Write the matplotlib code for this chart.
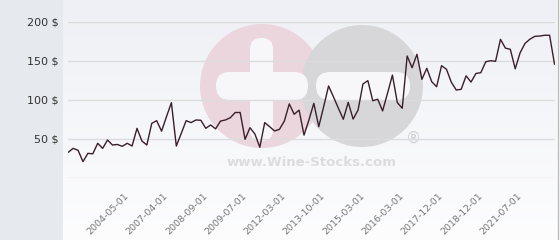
"""
Price history line chart for one wine (wine-stocks style), saved to out.png.
"""

import matplotlib
matplotlib.use("Agg")
import matplotlib.pyplot as plt
import numpy as np
from matplotlib.patches import Circle, FancyBboxPatch, Rectangle

# price per sample
prices = [
    33, 38, 35.5, 21, 31.6, 31, 44.5, 38, 48.7, 42.3,
    43, 40.6, 44.5, 41, 63.7, 47.4, 42.3, 70, 73.5, 60,
    78.6, 96.6, 41, 57, 73.5, 71, 74.4, 74, 63.7, 68,
    63, 73, 74.4, 77.3, 84, 84, 49.6, 64.5, 56.4, 39.4,
    71, 65.8, 60.3, 62.4, 73, 95, 81.7, 87, 55, 74.4,
    95.8, 65.8, 91.4, 118, 104, 89.4, 75.3, 97, 75.6, 87,
    120.5, 124.8, 99, 101, 86, 108.6, 132, 96.6, 89.4, 156.4,
    141.4, 158.6, 126.5, 140.6, 123.5, 117, 144, 139.4, 122.7, 112.8,
    113.7, 131, 123, 134, 135, 149, 150.4, 149.6, 177.8, 166.5,
    165, 140, 160.6, 172.6, 178, 181.6, 182, 183, 183, 146,
]

date_labels = [
    "2004-05-01", "2007-04-01", "2008-09-01", "2009-07-01", "2012-03-01",
    "2013-10-01", "2015-03-01", "2016-03-01", "2017-12-01", "2018-12-01",
    "2021-07-01",
]
label_start, label_step = 12, 8   # every 8th sample gets a date label

y_ticks = [0, 50, 100, 150, 200]

W, H = 560, 240
fig = plt.figure(figsize=(W / 100, H / 100), dpi=100)

# background layer in pixel coords: grey side panel, gradient, watermark
bg = fig.add_axes([0, 0, 1, 1], zorder=0)
bg.set_xlim(0, W)
bg.set_ylim(H, 0)
bg.axis("off")
grad = np.linspace(0, 1, 100).reshape(-1, 1)
bg.imshow(grad, cmap=matplotlib.colors.LinearSegmentedColormap.from_list(
    "bgg", ["#eef0f5", "#fdfdfe"]), extent=[63, 557, H, 0], aspect="auto")
bg.add_patch(Rectangle((0, 0), 63, H, color="#e6eaee", lw=0))
bg.plot([558, 558], [0, H], color="#b8b8b8", lw=1)

# watermark logo
bg.add_patch(Circle((262, 86), 62, color="#ebd6dd", lw=0))
bg.add_patch(Circle((362, 86), 61, color="#d7d7d9", lw=0))
bar = dict(boxstyle="round,pad=0,rounding_size=14", color="#f7f7fa", lw=0)
bg.add_patch(FancyBboxPatch((216, 72), 92, 28, **bar))
bg.add_patch(FancyBboxPatch((250, 38), 23, 103, **dict(bar, boxstyle="round,pad=0,rounding_size=11")))
bg.add_patch(FancyBboxPatch((316, 72), 94, 28, **bar))
bg.text(413, 138, "®", color="#cfcfd2", fontsize=11, ha="center", va="center")
bg.text(312, 162, "www.Wine-Stocks.com", color="#dcdcde", fontsize=9.5,
        fontweight="bold", ha="center", va="center")

# main chart
ax = fig.add_axes([68 / W, 62 / H, 487 / W, 156 / H], zorder=1)
ax.patch.set_alpha(0)
x = np.arange(len(prices))
ax.plot(x, prices, color="#3b1e2b", lw=1)
ax.set_xlim(-0.05, 99.1)
ax.set_ylim(0, 200)

ax.set_yticks(y_ticks)
ax.set_yticklabels([f"{v} $" if v else "" for v in y_ticks], fontsize=8, color="#333333")
ax.set_xticks(range(label_start, label_start + label_step * len(date_labels), label_step))
ax.set_xticklabels(date_labels, rotation=45, ha="right", va="center",
                   rotation_mode="anchor", fontsize=6.8, color="#777777")
ax.tick_params(axis="y", length=0, pad=7)
ax.tick_params(axis="x", length=0, pad=12)
ax.grid(axis="y", color="#dcdcdc", lw=1)
ax.set_axisbelow(True)
for s in ax.spines.values():
    s.set_visible(False)

fig.savefig("out.png", dpi=100)
